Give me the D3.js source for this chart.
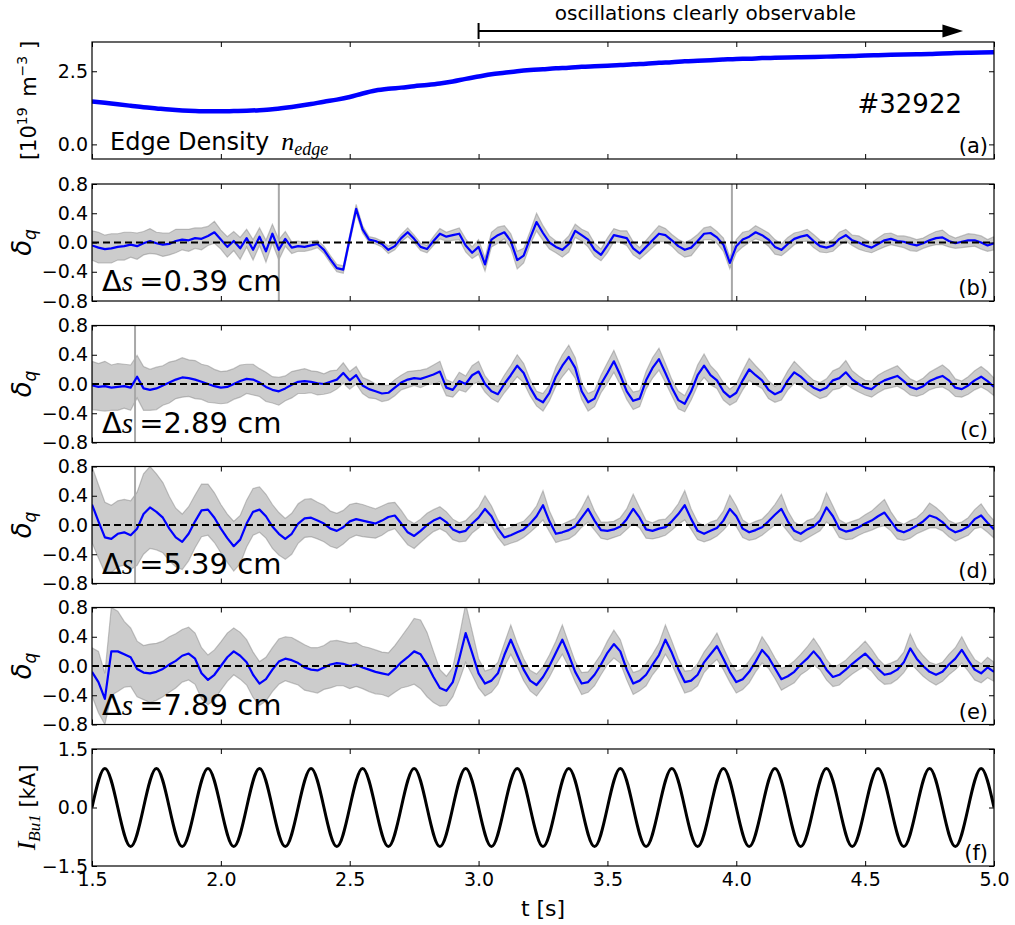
<!DOCTYPE html>
<html>
<head>
<meta charset="utf-8">
<script src="https://cdn.jsdelivr.net/npm/d3@7"></script>
<style>
body { margin: 0; background: #fff; }
text { font-family: "DejaVu Sans", sans-serif; }
</style>
</head>
<body>
<div id="plot"></div>
<script>
// sample times (s)
var tFine = d3.range(141).map(function(i) { return +(1.5 + i * 0.025).toFixed(3); });
var tCoarse = d3.range(71).map(function(i) { return +(1.5 + i * 0.05).toFixed(2); });
var xTicks = [1.5, 2.0, 2.5, 3.0, 3.5, 4.0, 4.5, 5.0];

// (a) edge density [1e19 m^-3], on tCoarse
var density = [1.47,1.42,1.37,1.32,1.27,1.23,1.19,1.16,1.14,1.13,
  1.13,1.14,1.15,1.17,1.20,1.25,1.31,1.38,1.46,1.53,
  1.62,1.74,1.84,1.90,1.94,1.99,2.03,2.08,2.15,2.24,
  2.32,2.40,2.45,2.50,2.54,2.57,2.60,2.62,2.65,2.67,
  2.69,2.71,2.74,2.76,2.79,2.81,2.84,2.86,2.88,2.90,
  2.92,2.93,2.95,2.96,2.97,2.98,2.99,3.00,3.01,3.02,
  3.04,3.05,3.06,3.07,3.08,3.09,3.11,3.12,3.13,3.14,3.15];

// (b) ds = 0.39 cm, on tFine
var dqB = [-0.04,-0.07,-0.09,-0.08,-0.06,-0.05,-0.03,-0.05,-0.01,0.02,
  -0.01,-0.03,-0.02,0.02,0.04,0.03,0.06,0.05,0.09,0.14,
  0.04,-0.06,0.02,-0.08,0.06,-0.10,0.08,-0.12,0.12,-0.10,
  0.05,-0.07,-0.05,-0.06,-0.04,-0.02,-0.10,-0.23,-0.35,-0.37,
  0.05,0.46,0.18,0.04,0.02,-0.02,-0.10,-0.05,0.06,0.14,
  0.05,-0.06,-0.09,0.02,0.12,0.08,0.10,0.12,-0.04,-0.14,
  -0.06,-0.30,0.04,0.10,0.14,0.02,-0.24,-0.18,0.06,0.28,
  0.13,0.00,-0.06,-0.10,-0.02,0.16,0.10,0.04,-0.10,-0.17,
  -0.04,0.10,0.08,0.06,-0.08,-0.15,-0.06,0.03,0.12,0.10,
  0.03,-0.05,-0.10,-0.07,0.02,0.12,0.13,0.07,-0.03,-0.28,
  -0.05,0.04,0.08,0.14,0.10,0.04,-0.06,-0.10,-0.02,0.05,
  0.08,0.10,0.02,-0.05,-0.07,-0.04,0.05,0.10,0.03,0.00,
  -0.04,-0.07,-0.02,0.03,0.05,0.02,0.01,-0.02,-0.04,-0.01,
  0.03,0.06,0.07,0.02,-0.01,0.01,0.03,0.03,0.00,-0.04,
  -0.01];
var errB = [0.2,0.21,0.19,0.2,0.18,0.19,0.17,0.18,0.16,0.17,0.15,0.16,0.15,0.16,0.14,0.15,0.14,0.15,0.13,0.15,0.13,
  0.14,0.13,0.15,0.12,0.14,0.12,0.15,0.13,0.14,0.1,
  0.08,0.07,0.06,0.06,0.05,0.05,
  0.05,0.05,0.05,0.05,0.06,0.05,0.04,0.04,0.04,0.05,0.05,0.05,0.06,0.05,0.05,0.05,0.06,0.07,0.06,0.07,
  0.08,0.09,0.08,0.1,0.09,0.1,0.11,0.09,0.1,0.12,0.1,0.09,0.12,0.1,0.09,0.08,0.1,0.11,0.09,0.08,
  0.1,0.09,0.08,0.1,0.09,0.08,0.1,0.09,0.08,0.09,0.1,0.11,0.09,0.08,0.09,0.1,0.11,0.09,0.08,0.09,
  0.08,0.09,0.08,0.09,0.1,0.08,0.09,0.08,0.09,0.1,0.08,0.09,0.08,0.07,0.08,0.09,0.08,0.07,0.08,0.09,
  0.08,0.07,0.09,0.08,0.07,0.08,0.09,0.08,0.07,0.08,0.09,0.08,0.07,0.08,0.09,0.1,0.08,0.07,0.08,0.09,
  0.08,0.09,0.08,0.09];

// (c) ds = 2.89 cm
var dqC = [-0.02,-0.04,-0.03,-0.05,-0.04,-0.03,-0.05,0.10,-0.06,-0.08,
  -0.06,-0.02,0.02,0.06,0.09,0.08,0.06,0.03,0.00,-0.03,
  -0.05,-0.04,0.00,0.04,0.07,0.06,0.02,-0.04,-0.08,-0.10,
  -0.06,-0.01,0.03,0.04,0.03,0.01,0.00,0.03,0.06,0.15,
  0.05,0.12,-0.02,-0.07,-0.10,-0.13,-0.12,-0.05,0.02,0.06,
  0.08,0.07,0.10,0.13,0.17,-0.05,-0.08,0.04,0.00,0.12,
  0.17,0.00,-0.10,-0.14,0.00,0.12,0.25,0.15,-0.05,-0.20,
  -0.25,-0.12,0.10,0.25,0.37,0.22,-0.10,-0.25,-0.20,0.00,
  0.15,0.31,0.12,-0.10,-0.23,-0.20,0.05,0.22,0.34,0.15,
  -0.05,-0.22,-0.27,-0.10,0.12,0.25,0.12,0.05,-0.10,-0.18,
  -0.12,0.05,0.20,0.12,0.05,-0.08,-0.14,-0.10,0.05,0.16,
  0.10,0.02,-0.05,-0.09,-0.05,0.05,0.08,0.16,0.06,0.00,
  -0.05,-0.07,0.00,0.05,0.08,0.11,0.04,-0.04,-0.07,-0.03,
  0.04,0.08,0.11,0.05,-0.05,-0.07,-0.02,0.05,0.10,0.04,
  -0.04];
var errC = [0.33,0.32,0.34,0.31,0.32,0.3,0.31,0.29,0.3,0.28,0.29,0.27,0.28,0.26,0.27,0.25,0.26,0.24,0.25,0.23,0.22,
  0.22,0.21,0.22,0.2,0.21,0.19,0.2,0.18,0.19,0.17,0.18,0.16,0.17,0.15,0.16,0.14,0.15,0.13,0.14,0.12,
  0.12,0.11,0.12,0.1,0.11,0.1,0.11,0.1,0.11,0.1,0.12,0.11,0.13,0.14,0.11,0.1,0.12,0.11,0.13,0.14,
  0.11,0.1,0.11,0.12,0.13,0.15,0.13,0.11,0.1,0.12,0.11,0.13,0.15,0.16,0.14,0.11,0.12,0.11,0.12,0.14,
  0.15,0.13,0.11,0.12,0.11,0.12,0.14,0.15,0.13,0.11,0.12,0.11,0.12,0.14,0.16,0.13,0.11,0.12,0.11,0.12,
  0.13,0.15,0.13,0.11,0.12,0.11,0.12,0.13,0.15,0.12,0.11,0.1,0.11,0.12,0.13,0.14,0.16,0.12,0.11,0.1,
  0.11,0.12,0.12,0.13,0.14,0.12,0.11,0.1,0.11,0.12,0.13,0.15,0.14,0.12,0.11,0.12,0.13,0.14,0.13,0.12];

// (d) ds = 5.39 cm
var dqD = [0.28,0.05,-0.17,-0.19,-0.12,-0.10,-0.14,-0.05,0.15,0.24,
  0.18,0.10,-0.05,-0.17,-0.23,-0.12,0.05,0.20,0.21,0.10,
  -0.05,-0.18,-0.29,-0.20,0.02,0.18,0.21,0.12,-0.02,-0.12,
  -0.19,-0.12,0.02,0.09,0.10,0.06,0.02,-0.05,-0.08,-0.03,
  0.05,0.08,0.06,0.04,0.02,0.06,0.11,0.13,0.02,-0.10,
  -0.15,-0.08,0.00,0.06,0.10,0.04,-0.06,-0.10,-0.08,0.02,
  0.10,0.22,0.12,-0.05,-0.17,-0.14,-0.10,-0.06,0.02,0.12,
  0.27,0.05,-0.12,-0.10,-0.07,-0.02,0.10,0.22,0.06,-0.07,
  -0.08,-0.06,-0.02,0.08,0.22,0.10,-0.06,-0.08,-0.05,-0.03,
  0.05,0.15,0.27,0.08,-0.08,-0.12,-0.08,-0.04,0.06,0.22,
  0.12,-0.05,-0.10,-0.07,-0.03,0.05,0.14,0.22,0.05,-0.08,
  -0.12,-0.06,-0.02,0.06,0.24,0.12,-0.05,-0.09,-0.07,-0.03,
  0.02,0.06,0.12,0.17,0.05,-0.07,-0.10,-0.06,-0.01,0.05,
  0.13,0.10,0.04,-0.05,-0.10,-0.07,-0.02,0.08,0.13,0.03,
  -0.06];
var errD = [0.52,0.5,0.48,0.46,0.45,0.45,0.47,0.5,0.55,0.56,0.52,0.48,0.44,
  0.4,0.38,0.37,0.36,0.36,0.35,0.34,0.33,0.33,0.34,0.33,0.32,0.32,0.31,0.3,0.3,
  0.29,0.28,0.28,0.27,0.26,0.26,0.25,0.25,0.24,0.24,0.23,0.23,0.22,0.22,0.21,0.2,0.2,0.19,0.18,0.18,
  0.17,0.17,0.16,0.16,0.15,0.15,0.14,0.14,0.13,0.14,0.13,0.14,
  0.18,0.14,0.12,0.11,0.11,0.12,0.11,0.12,0.14,0.2,0.14,0.12,0.11,0.12,0.11,0.13,0.18,0.13,0.11,0.12,
  0.11,0.12,0.14,0.2,0.14,0.12,0.11,0.12,0.11,0.12,0.14,0.2,0.14,0.12,0.11,0.12,0.11,0.13,0.19,0.14,
  0.12,0.11,0.12,0.11,0.12,0.14,0.2,0.14,0.12,0.11,0.12,0.11,0.14,0.2,0.14,0.12,0.11,0.12,0.11,0.12,
  0.13,0.15,0.18,0.13,0.12,0.11,0.12,0.11,0.13,0.17,0.14,0.12,0.11,0.12,0.11,0.12,0.13,0.16,0.13,0.12];

// (e) ds = 7.89 cm
var dqE = [-0.08,-0.22,-0.45,0.20,0.20,0.16,0.12,-0.04,-0.09,-0.10,
  -0.08,-0.04,0.02,0.07,0.14,0.17,0.10,-0.10,-0.19,-0.12,
  0.00,0.12,0.20,0.14,0.05,-0.12,-0.24,-0.18,-0.05,0.06,
  0.10,0.08,0.04,-0.02,-0.05,-0.06,-0.02,0.02,0.04,0.03,
  0.00,0.02,-0.02,-0.05,-0.08,-0.10,-0.12,-0.04,0.05,0.12,
  0.20,0.16,0.02,-0.15,-0.30,-0.34,-0.22,0.10,0.45,0.18,
  -0.10,-0.24,-0.20,-0.10,0.15,0.36,0.15,-0.05,-0.20,-0.26,
  -0.15,0.00,0.18,0.36,0.15,-0.08,-0.24,-0.22,-0.12,0.02,
  0.18,0.30,0.20,-0.05,-0.24,-0.20,-0.12,0.02,0.15,0.36,
  0.18,-0.04,-0.22,-0.20,-0.12,0.05,0.16,0.27,0.10,-0.08,
  -0.22,-0.18,-0.08,0.06,0.22,0.12,-0.03,-0.18,-0.14,-0.08,
  0.02,0.10,0.20,0.10,-0.05,-0.15,-0.12,-0.05,0.03,0.10,
  0.17,0.08,-0.04,-0.12,-0.10,-0.05,0.05,0.24,0.10,0.00,
  -0.08,-0.12,-0.08,0.02,0.10,0.22,0.08,-0.05,-0.10,-0.02,
  -0.08];
var errE = [0.33,0.42,0.35,0.6,0.55,0.45,0.4,0.38,0.37,
  0.4,0.39,0.38,0.38,0.37,0.36,0.36,0.35,0.35,0.34,0.34,0.33,0.33,0.32,0.32,0.31,0.31,0.3,0.3,0.3,
  0.31,0.3,0.31,0.3,0.31,0.3,0.31,0.3,0.32,0.31,0.3,0.31,0.3,0.29,0.3,0.3,0.29,0.3,0.32,0.35,
  0.4,0.45,0.47,0.44,0.35,0.25,0.2,0.2,0.3,0.4,0.3,0.2,
  0.17,0.16,0.15,0.16,0.2,0.16,0.15,0.14,0.15,0.14,0.15,0.16,0.2,0.16,0.14,0.15,0.14,0.15,0.14,0.16,
  0.19,0.16,0.14,0.15,0.14,0.15,0.14,0.16,0.2,0.16,0.14,0.15,0.14,0.15,0.14,0.15,0.18,0.15,0.14,0.15,
  0.14,0.15,0.14,0.18,0.15,0.14,0.15,0.14,0.15,0.14,0.16,0.18,0.15,0.14,0.13,0.14,0.13,0.14,0.15,0.17,
  0.15,0.14,0.13,0.14,0.13,0.14,0.2,0.15,0.14,0.13,0.14,0.13,0.14,0.15,0.18,0.15,0.14,0.13,0.14,0.13];

// vertical artefact lines (s)
var spikesB = [2.225, 3.983];
var spikesC = [1.667];
var spikesD = [1.667];
var spikesE = [];

// (f) coil current I_Bu1 [kA], on tCoarse
var coil = [0,1,0,-1, 0,1,0,-1, 0,1,0,-1, 0,1,0,-1, 0,1,0,-1,
  0,1,0,-1, 0,1,0,-1, 0,1,0,-1, 0,1,0,-1, 0,1,0,-1,
  0,1,0,-1, 0,1,0,-1, 0,1,0,-1, 0,1,0,-1, 0,1,0,-1,
  0,1,0,-1, 0,1,0,-1, 0,1,0];

var labelsDs = ["0.39", "2.89", "5.39", "7.89"];
var panelTags = ["(a)", "(b)", "(c)", "(d)", "(e)", "(f)"];

// layout
var left = 92, right = 994;
var tops = [42, 184, 325.5, 466.5, 607.5, 749];
var ph = 117;

var svg = d3.select("#plot").append("svg")
    .attr("width", 1015)
    .attr("height", 925);

var x = d3.scaleLinear().domain([1.5, 5.0]).range([left, right]);

function makePanel(i, domain) {
    var top = tops[i];
    var y = d3.scaleLinear().domain(domain).range([top + ph, top]);
    svg.append("clipPath").attr("id", "clip" + i)
      .append("rect")
        .attr("x", left).attr("y", top)
        .attr("width", right - left).attr("height", ph);
    var g = svg.append("g");
    var plot = g.append("g").attr("clip-path", "url(#clip" + i + ")");
    return {g: g, plot: plot, y: y, top: top};
}

function finishPanel(p, i, yTicks, showX) {
    var g = p.g, y = p.y;
    var fmt = d3.format(".1f");
    var noDomain = function(a) { a.select(".domain").remove(); };

    g.append("g")
        .attr("transform", "translate(" + left + ",0)")
        .call(d3.axisLeft(y).tickValues(yTicks).tickSize(-5).tickPadding(4).tickFormat(fmt))
        .call(noDomain);
    g.append("g")
        .attr("transform", "translate(" + right + ",0)")
        .call(d3.axisRight(y).tickValues(yTicks).tickSize(-5).tickFormat(""))
        .call(noDomain);
    g.append("g")
        .attr("transform", "translate(0," + p.top + ")")
        .call(d3.axisTop(x).tickValues(xTicks).tickSize(-5).tickFormat(""))
        .call(noDomain);
    g.append("g")
        .attr("transform", "translate(0," + (p.top + ph) + ")")
        .call(d3.axisBottom(x).tickValues(xTicks).tickSize(-5).tickPadding(7)
            .tickFormat(showX ? fmt : ""))
        .call(noDomain);

    g.selectAll(".tick text")
        .attr("font-family", "DejaVu Sans")
        .attr("font-size", 19)
        .attr("fill", "#000");

    g.append("rect")
        .attr("x", left).attr("y", p.top)
        .attr("width", right - left).attr("height", ph)
        .attr("fill", "none")
        .attr("stroke", "#000")
        .attr("stroke-width", 1.2);

    g.append("text")
        .attr("x", right - 6)
        .attr("y", p.top + ph - 6)
        .attr("text-anchor", "end")
        .attr("font-size", 21)
        .text(panelTags[i]);
}

// ---- panel (a)
var pa = makePanel(0, [-0.5, 3.5]);
pa.plot.append("path")
    .datum(density)
    .attr("fill", "none")
    .attr("stroke", "#0000ff")
    .attr("stroke-width", 4.5)
    .attr("d", d3.line()
        .x(function(d, i) { return x(tCoarse[i]); })
        .y(function(d) { return pa.y(d); })
        .curve(d3.curveMonotoneX));
finishPanel(pa, 0, [0.0, 2.5], false);

pa.g.append("text")
    .attr("x", right - 32).attr("y", 113)
    .attr("text-anchor", "end")
    .attr("font-size", 26)
    .text("#32922");

var ed = pa.g.append("text").attr("x", 110).attr("y", 150).attr("font-size", 24);
ed.append("tspan").text("Edge Density");
ed.append("tspan").attr("dx", 12)
    .attr("font-family", "Liberation Serif").attr("font-style", "italic")
    .attr("font-size", 26).text("n");
ed.append("tspan").attr("dy", 5)
    .attr("font-family", "Liberation Serif").attr("font-style", "italic")
    .attr("font-size", 18).text("edge");

var ya = pa.g.append("text")
    .attr("transform", "translate(36," + (pa.top + ph / 2) + ") rotate(-90)")
    .attr("text-anchor", "middle")
    .attr("font-size", 21);
ya.append("tspan").text("[10");
ya.append("tspan").attr("dy", -9).attr("font-size", 14).text("19");
ya.append("tspan").attr("dy", 9).text("\u2002m");
ya.append("tspan").attr("dy", -9).attr("font-size", 14).text("\u22123");
ya.append("tspan").attr("dy", 9).text(" ]");

// arrow above (a)
var arrowY = 31;
svg.append("line")
    .attr("x1", x(3.0)).attr("x2", x(4.82))
    .attr("y1", arrowY).attr("y2", arrowY)
    .attr("stroke", "#000").attr("stroke-width", 2);
svg.append("line")
    .attr("x1", x(3.0)).attr("x2", x(3.0))
    .attr("y1", arrowY - 8).attr("y2", arrowY + 8)
    .attr("stroke", "#000").attr("stroke-width", 2);
svg.append("path")
    .attr("d", "M" + x(4.8) + "," + (arrowY - 6.5) + "L" + x(4.88) + "," + arrowY +
               "L" + x(4.8) + "," + (arrowY + 6.5) + "Z")
    .attr("fill", "#000");
svg.append("text")
    .attr("x", x(3.88)).attr("y", 20)
    .attr("text-anchor", "middle")
    .attr("font-size", 20)
    .text("oscillations clearly observable");

// ---- panels (b)-(e)
var series = [dqB, dqC, dqD, dqE];
var errs = [errB, errC, errD, errE];
var spikes = [spikesB, spikesC, spikesD, spikesE];

series.forEach(function(vals, k) {
    var i = k + 1;
    var p = makePanel(i, [-0.8, 0.8]);
    var err = errs[k];

    p.plot.append("path")
        .datum(vals)
        .attr("fill", "#808080").attr("fill-opacity", 0.4)
        .attr("stroke", "#808080").attr("stroke-opacity", 0.45).attr("stroke-width", 1.2)
        .attr("d", d3.area()
            .x(function(d, j) { return x(tFine[j]); })
            .y0(function(d, j) { return p.y(d - err[j]); })
            .y1(function(d, j) { return p.y(d + err[j]); }));

    p.plot.selectAll(".spike")
        .data(spikes[k])
        .enter().append("line")
        .attr("x1", function(d) { return x(d); })
        .attr("x2", function(d) { return x(d); })
        .attr("y1", p.y(-0.8)).attr("y2", p.y(0.8))
        .attr("stroke", "#a8a8a8").attr("stroke-width", 2);

    p.plot.append("path")
        .datum(vals)
        .attr("fill", "none")
        .attr("stroke", "#0000ff")
        .attr("stroke-width", 2.2)
        .attr("stroke-linejoin", "round")
        .attr("d", d3.line()
            .x(function(d, j) { return x(tFine[j]); })
            .y(function(d) { return p.y(d); }));

    p.plot.append("line")
        .attr("x1", left).attr("x2", right)
        .attr("y1", p.y(0)).attr("y2", p.y(0))
        .attr("stroke", "#000").attr("stroke-width", 2)
        .attr("stroke-dasharray", "7,4");

    finishPanel(p, i, [-0.8, -0.4, 0.0, 0.4, 0.8], false);

    var lab = p.g.append("text")
        .attr("x", 102).attr("y", p.top + ph - 10)
        .attr("font-size", 29);
    lab.append("tspan").text("\u0394");
    lab.append("tspan")
        .attr("font-family", "Liberation Serif").attr("font-style", "italic")
        .text("s");
    lab.append("tspan").attr("dx", 6).text("=" + labelsDs[k] + " cm");

    var yl = p.g.append("text")
        .attr("transform", "translate(31," + (p.top + ph / 2) + ") rotate(-90)")
        .attr("text-anchor", "middle")
        .attr("font-family", "Liberation Serif").attr("font-style", "italic");
    yl.append("tspan").attr("font-size", 26).text("\u03b4");
    yl.append("tspan").attr("font-size", 17).attr("dy", 5).text("q");
});

// ---- panel (f)
var pf = makePanel(5, [-1.5, 1.5]);
pf.plot.append("path")
    .datum(coil)
    .attr("fill", "none")
    .attr("stroke", "#000")
    .attr("stroke-width", 3)
    .attr("d", d3.line()
        .x(function(d, i) { return x(tCoarse[i]); })
        .y(function(d) { return pf.y(d); })
        .curve(d3.curveNatural));
finishPanel(pf, 5, [-1.5, 0.0, 1.5], true);

var yf = pf.g.append("text")
    .attr("transform", "translate(35," + (pf.top + ph / 2) + ") rotate(-90)")
    .attr("text-anchor", "middle");
yf.append("tspan").attr("font-family", "Liberation Serif").attr("font-style", "italic")
    .attr("font-size", 26).text("I");
yf.append("tspan").attr("font-family", "Liberation Serif").attr("font-style", "italic")
    .attr("font-size", 17).attr("dy", 5).text("Bu1");
yf.append("tspan").attr("font-size", 21).attr("dy", -5).text(" [kA]");

svg.append("text")
    .attr("x", (left + right) / 2).attr("y", 916)
    .attr("text-anchor", "middle")
    .attr("font-size", 22)
    .text("t [s]");
</script>
</body>
</html>
